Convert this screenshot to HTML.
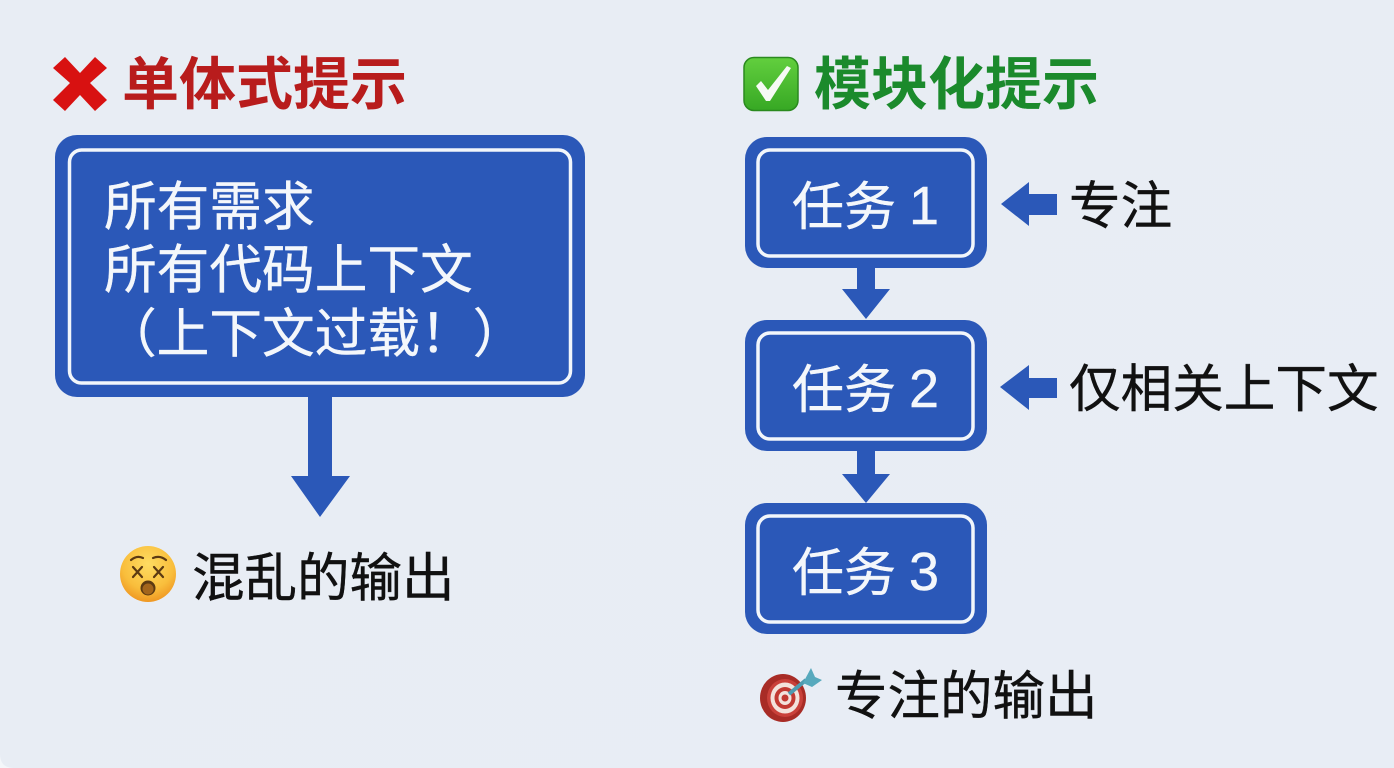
<!DOCTYPE html>
<html lang="zh"><head><meta charset="utf-8"><style>
html,body{margin:0;padding:0;width:1394px;height:768px;overflow:hidden;background:#f4f7fa}
svg{display:block}
text{font-family:"Liberation Sans","Noto Sans CJK SC",sans-serif}
.cjk{font-family:"Noto Sans CJK SC",sans-serif}
</style></head><body>
<svg width="1394" height="768" viewBox="0 0 1394 768" xmlns="http://www.w3.org/2000/svg">
<defs>
<radialGradient id="face" cx="50%" cy="32%" r="70%"><stop offset="0" stop-color="#fedc62"/><stop offset=".65" stop-color="#f9be3c"/><stop offset="1" stop-color="#ee9420"/></radialGradient>
<linearGradient id="chk" x1="0" y1="0" x2="0" y2="1"><stop offset="0" stop-color="#62cf3e"/><stop offset="1" stop-color="#37a824"/></linearGradient>
<linearGradient id="bg" x1="0" y1="0" x2="1" y2="1"><stop offset="0" stop-color="#e8edf4"/><stop offset="1" stop-color="#e8edf5"/></linearGradient>
</defs>
<path d="M0 0H1394V768H14Q0 768 0 754Z" fill="url(#bg)"/>
<!-- left heading -->
<path d="M53 68L65 57L80 73L95 57L107 68L90 83L107 100L95 111L80 95L65 111L53 100L70 83Z" fill="#d81111"/>
<text class="cjk" x="122" y="104" font-size="57" font-weight="700" fill="#b81c1c">单体式提示</text>
<!-- left box -->
<rect x="55" y="135" width="530" height="262" rx="22" fill="#2b58b8"/>
<rect x="69.500" y="150" width="501" height="233" rx="12" fill="none" stroke="#f2f6fb" stroke-width="3.500"/>
<g font-size="52.700" fill="#f4f7fb" stroke="#f4f7fb" stroke-width=".4">
<text class="cjk" x="104" y="225">所有需求</text>
<text class="cjk" x="104" y="288">所有代码上下文</text>
<text class="cjk" x="104" y="352">（上下文过载！）</text>
</g>
<path d="M308 397H332V476H350L320 517L291 476H308Z" fill="#2b58b8"/>
<!-- dizzy face -->
<circle cx="148" cy="574" r="28" fill="url(#face)"/>
<g stroke="#5c3a12" stroke-width="2.200" fill="none" stroke-linecap="round">
<path d="M131 560Q137 555 143 558M153 558Q160 555 166 560"/>
<path d="M133 567L142 577M142 567L133 577M154 567L163 577M163 567L154 577"/>
</g>
<circle cx="148" cy="588" r="7.500" fill="#5c3a12"/>
<circle cx="148" cy="589" r="5.500" fill="#a3651c"/>
<text class="cjk" x="192" y="596" font-size="52.500" fill="#111" stroke="#111" stroke-width=".4">混乱的输出</text>
<!-- right heading -->
<rect x="744" y="57.500" width="54" height="53" rx="10" fill="url(#chk)" stroke="#2a8a1e" stroke-width="1.500"/>
<path d="M756 86L761 81L768 90L787 66L791 68L770 101H766Z" fill="#f6faf4"/>
<text class="cjk" x="814" y="104" font-size="57" font-weight="700" fill="#1b8a2c">模块化提示</text>
<!-- task boxes -->
<g fill="#2b58b8">
<rect x="745" y="137" width="242" height="131" rx="22"/>
<rect x="745" y="320" width="242" height="131" rx="22"/>
<rect x="745" y="503" width="242" height="131" rx="22"/>
<path d="M857 268H875V289H890L866 319L842 289H857Z"/>
<path d="M857 451H875V474H890L866 503L842 474H857Z"/>
<path d="M1001 204L1029 182V194H1057V215H1029V226Z"/>
<path d="M1000 387L1029 365V378H1057V398H1029V410Z"/>
</g>
<g fill="none" stroke="#f2f6fb" stroke-width="3.500">
<rect x="758" y="150" width="215" height="106" rx="12"/>
<rect x="758" y="333" width="215" height="106" rx="12"/>
<rect x="758" y="516" width="215" height="106" rx="12"/>
</g>
<g font-size="52" fill="#f4f7fb" stroke="#f4f7fb" stroke-width=".4">
<text class="cjk" x="792" y="225">任务</text><text x="909" y="224" font-size="54">1</text>
<text class="cjk" x="792" y="408">任务</text><text x="909" y="407" font-size="54">2</text>
<text class="cjk" x="792" y="591">任务</text><text x="909" y="590" font-size="54">3</text>
</g>
<text class="cjk" x="1069" y="224" font-size="51.600" fill="#111" stroke="#111" stroke-width=".4">专注</text>
<text class="cjk" x="1069" y="407" font-size="51.600" fill="#111" stroke="#111" stroke-width=".4">仅相关上下文</text>
<!-- target -->
<ellipse cx="783" cy="698" rx="23" ry="24" fill="#a82c26"/>
<ellipse cx="785" cy="698" rx="18" ry="19" fill="#c9413a"/>
<ellipse cx="785" cy="698" rx="14.500" ry="15.500" fill="#f3e3dc"/>
<ellipse cx="785" cy="698" rx="10.500" ry="11" fill="#c23a32"/>
<ellipse cx="785" cy="698" rx="6.500" ry="7" fill="#f3e3dc"/>
<circle cx="785" cy="698" r="3.500" fill="#c23a32"/>
<path d="M789 694L806 680" stroke="#4f9bb0" stroke-width="4"/>
<path d="M803 683L811 668L815 677L822 680L812 687Z" fill="#57a9bd"/>
<text class="cjk" x="835" y="714" font-size="52.500" fill="#111" stroke="#111" stroke-width=".4">专注的输出</text>
</svg>
</body></html>
